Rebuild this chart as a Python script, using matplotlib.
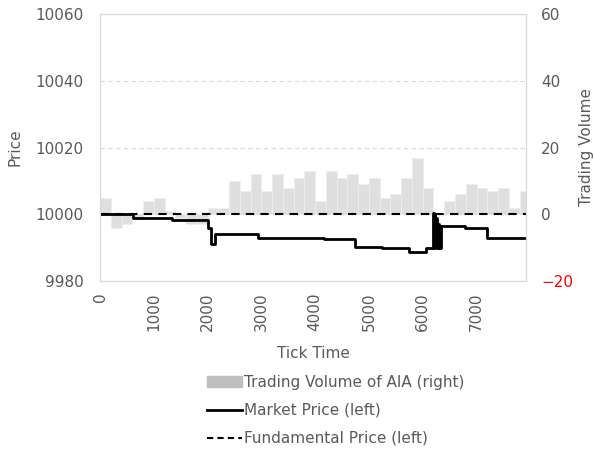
import matplotlib
matplotlib.use('Agg')
import matplotlib.pyplot as plt
from matplotlib.patches import Patch
from matplotlib.lines import Line2D

plt.rcParams['font.family'] = ['DejaVu Sans']

# trading volume of AIA, one bar per 200 ticks
vol_start = [0, 200, 400, 600, 800, 1000, 1200, 1400, 1600, 1800,
             2000, 2200, 2400, 2600, 2800, 3000, 3200, 3400, 3600, 3800,
             4000, 4200, 4400, 4600, 4800, 5000, 5200, 5400, 5600, 5800,
             6000, 6200, 6400, 6600, 6800, 7000, 7200, 7400, 7600, 7800]
volume = [5, -4, -3, -1, 4, 5, 1, -1, -3, -3,
          2, 2, 10, 7, 12, 7, 12, 8, 11, 13,
          4, 13, 11, 12, 9, 11, 5, 6, 11, 17,
          8, 0, 4, 6, 9, 8, 7, 8, 2, 7]

# market price (step changes)
price_tick = [0, 620, 1330, 2000, 2070, 2140, 2940, 4170, 4740, 5240,
              5740, 6060, 6190, 6205, 6220, 6235, 6250, 6265, 6280, 6295,
              6310, 6325, 6340, 6780, 7190, 7920]
price = [10000, 9999.0, 9998.4, 9995.8, 9991.2, 9994.2, 9993.0, 9992.6, 9990.3, 9989.8,
         9988.8, 9990.0, 10000.5, 9990.0, 10000.0, 9990.5, 9999.0, 9990.0, 9997.0, 9990.0,
         9996.5, 9990.0, 9996.6, 9995.8, 9992.8, 9992.8]

fund_tick = [0, 7920]
fund_price = [10000, 10000]

gray = '#595959'

fig = plt.figure(figsize=(5.95, 4.5), dpi=100)
ax = fig.add_axes([100/595, 1 - 281/450, 426/595, 267/450])
ax2 = ax.twinx()
ax.set_zorder(ax2.get_zorder() + 1)
ax.patch.set_visible(False)

ax2.bar(vol_start, volume, width=200, align='edge', color='#dfdfdf', edgecolor='#eeeeee', linewidth=0.5)
ax.plot(price_tick, price, color='black', linewidth=2, drawstyle='steps-post')
ax.plot(fund_tick, fund_price, color='black', linewidth=1.5, linestyle=(0, (4, 3)))

ax.set_xlim(0, 7920)
ax.set_ylim(9980, 10060)
ax2.set_ylim(-20, 60)
ax.set_yticks([9980, 10000, 10020, 10040, 10060])
ax2.set_yticks([-20, 0, 20, 40, 60])
ax.set_xticks(range(0, 8000, 1000))
ax.tick_params(axis='x', labelrotation=90)

ax.yaxis.grid(True, linestyle=(0, (4, 3)), color='#d9d9d9', linewidth=0.8)
ax.set_axisbelow(True)

for a in [ax, ax2]:
    for s in a.spines.values():
        s.set_color('#d9d9d9')
    a.tick_params(length=0, labelsize=11, labelcolor=gray)
ax.tick_params(axis='y', pad=12)
ax2.tick_params(axis='y', pad=11)
ax.tick_params(axis='x', pad=8)
ax2.get_yticklabels()[0].set_color('red')

ax.set_ylabel('Price', fontsize=11, color=gray)
ax.yaxis.set_label_coords(-78/426, 0.5)
ax2.set_ylabel('Trading Volume', fontsize=11, color=gray)
ax2.yaxis.set_label_coords(1 + 53/426, 0.5)
ax.set_xlabel('Tick Time', fontsize=11, color=gray, labelpad=11)

handles = [Patch(color='#bfbfbf'),
           Line2D([], [], color='black', linewidth=2),
           Line2D([], [], color='black', linewidth=1.5, linestyle=(0, (3, 2)))]
labels = ['Trading Volume of AIA (right)', 'Market Price (left)', 'Fundamental Price (left)']
leg = fig.legend(handles, labels, loc='upper left', bbox_to_anchor=(207/595, 1 - 375/450),
                 frameon=False, fontsize=11, handlelength=2.3, handletextpad=0.1,
                 labelspacing=0.85, borderaxespad=0, borderpad=0)
for t in leg.get_texts():
    t.set_color(gray)

plt.savefig('out.png', dpi=100)
